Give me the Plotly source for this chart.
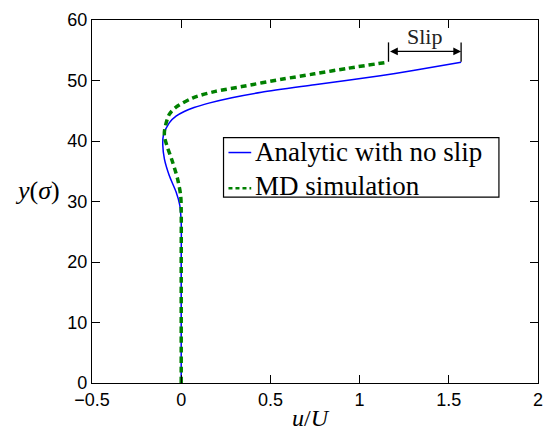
import plotly.graph_objects as go

# ---- data ----
analytic_u = [0, 0, 0, 0, -0.008, -0.029, -0.067, -0.094, -0.103, -0.1, -0.067, -0.029,
              0.017, 0.072, 0.155, 0.284, 0.45, 0.747, 1.116, 1.30, 1.569]
analytic_y = [0, 10, 20, 26.5, 29.4, 31.6, 34.3, 37.0, 39.2, 40.9, 43.0, 44.1,
              44.87, 45.53, 46.26, 47.16, 48.06, 49.3, 50.8, 51.65, 53.0]

md_u = [0, 0, 0, 0, -0.003, -0.02, -0.048, -0.08, -0.094, -0.092, -0.067, -0.029,
        0.063, 0.192, 0.34, 0.562, 0.747, 0.93, 1.162]
md_y = [0, 10, 20, 28.5, 31.0, 33.7, 36.5, 39.2, 40.8, 42.0, 44.4, 45.6,
        47.1, 48.2, 49.0, 50.2, 51.1, 52.0, 53.05]

x_ticks = [-0.5, 0, 0.5, 1, 1.5, 2]
x_tick_labels = ["\u22120.5", "0", "0.5", "1", "1.5", "2"]
y_ticks = [0, 10, 20, 30, 40, 50, 60]

series_names = ["Analytic with no slip", "MD simulation"]
series_colors = ["#0000ff", "#008000"]

serif = "Liberation Serif"
sans = "Liberation Sans"

fig = go.Figure()
fig.add_trace(go.Scatter(x=analytic_u, y=analytic_y, mode="lines",
                         name=series_names[0],
                         line=dict(color=series_colors[0], width=1.5,
                                   shape="spline", smoothing=0.8)))
fig.add_trace(go.Scatter(x=md_u, y=md_y, mode="lines",
                         name=series_names[1],
                         line=dict(color=series_colors[1], width=3.5, dash="6px,4px",
                                   shape="spline", smoothing=0.8)))

# slip marker between the two curve ends
x_md_end = md_u[-1]
x_an_end = analytic_u[-1]
y_arrow = 54.8
fig.add_annotation(x=x_an_end, y=y_arrow, ax=x_md_end, ay=y_arrow,
                   xref="x", yref="y", axref="x", ayref="y",
                   text="", showarrow=True, arrowhead=2, arrowside="end+start",
                   arrowsize=1.2, arrowwidth=1.3, arrowcolor="black",
                   standoff=0, startstandoff=0)
for xe in (x_md_end, x_an_end):
    fig.add_shape(type="line", x0=xe, x1=xe, y0=53.1, y1=56.3,
                  xref="x", yref="y", line=dict(color="black", width=1.3))
fig.add_annotation(x=(x_md_end + x_an_end) / 2, y=56.6, xref="x", yref="y",
                   text="Slip", showarrow=False, yanchor="bottom", yshift=-10,
                   font=dict(family=serif, size=22, color="#222"))

# axis titles
fig.add_annotation(x=0.49, y=-0.0954, xref="paper", yref="paper",
                   text="<i>u</i>/<i>U</i>", showarrow=False, yanchor="middle",
                   font=dict(family=serif, size=24, color="black"))
fig.add_annotation(x=-0.122, y=0.529, xref="paper", yref="paper",
                   text="<i>y</i>(<i>σ</i>)", showarrow=False,
                   xanchor="center", yanchor="middle",
                   font=dict(family=serif, size=26, color="black"))

# legend (box, samples, labels)
fig.add_shape(type="rect", xref="paper", yref="paper",
              x0=0.2949, x1=0.9124, y0=0.5123, y1=0.6757,
              line=dict(color="black", width=1.2), fillcolor="white", layer="above")
legend_line_y = [0.6349, 0.5368]
legend_text_y = [0.6368, 0.5414]
legend_dash = ["solid", "4px,3px"]
legend_width = [1.5, 2.5]
for name, col, ly, ty, dsh, lw in zip(series_names, series_colors, legend_line_y,
                                      legend_text_y, legend_dash, legend_width):
    fig.add_shape(type="line", xref="paper", yref="paper",
                  x0=0.306, x1=0.357, y0=ly, y1=ly,
                  line=dict(color=col, width=lw, dash=dsh), layer="above")
    fig.add_annotation(x=0.3614, y=ty, xref="paper", yref="paper",
                       text=name, showarrow=False, xanchor="left", yanchor="middle",
                       font=dict(family=serif, size=27, color="black"))

axis_common = dict(showline=True, linecolor="black", linewidth=1.4, mirror="ticks",
                   ticks="inside", ticklen=8, tickwidth=1, tickcolor="black",
                   showgrid=False, zeroline=False,
                   tickfont=dict(family=sans, size=18, color="black"))

fig.update_xaxes(range=[-0.5, 2], tickvals=x_ticks, ticktext=x_tick_labels, **axis_common)
fig.update_yaxes(range=[0, 60], tickvals=y_ticks, **axis_common)

fig.update_layout(
    width=553, height=434,
    margin=dict(l=92, r=10, t=16, b=51),
    plot_bgcolor="white", paper_bgcolor="white",
    showlegend=False,
)

fig.write_html("out.html")
